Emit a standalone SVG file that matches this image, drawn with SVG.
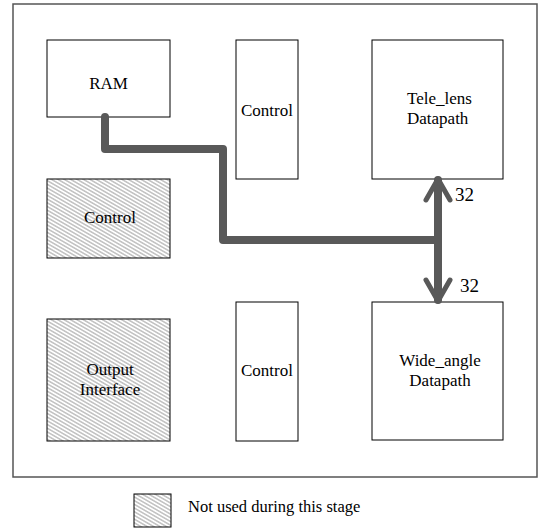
<svg xmlns="http://www.w3.org/2000/svg" width="539" height="529" viewBox="0 0 539 529">
<style>
.box{fill:#fff;stroke:#000;stroke-width:1}
.hbox{fill:url(#hatch);stroke:#000;stroke-width:1}
.lbl{font-family:"Liberation Serif","Times New Roman",serif;font-size:17px;fill:#000}
.c{text-anchor:middle}
.bus{fill:none;stroke:#595959;stroke-width:8;stroke-linecap:round;stroke-linejoin:round}
.head{fill:none;stroke:#595959;stroke-width:5;stroke-linecap:round;stroke-linejoin:round}
</style>
<defs>
<pattern id="hatch" patternUnits="userSpaceOnUse" width="3.2" height="3.2" patternTransform="rotate(30)">
<rect width="3.2" height="3.2" fill="#fff"/>
<line x1="0" y1="1.6" x2="3.2" y2="1.6" stroke="#8a8a8a" stroke-width="0.8"/>
</pattern>
</defs>
<rect id="frame" x="13" y="4" width="524" height="473" fill="#fff" stroke="#555" stroke-width="1.5"/>
<g id="ram"><rect class="box" x="47" y="40" width="123" height="77"/><text class="lbl c" x="108.5" y="89">RAM</text></g>
<g id="control-top"><rect class="box" x="236" y="40" width="62" height="139"/><text class="lbl c" x="267" y="116">Control</text></g>
<g id="tele"><rect class="box" x="372" y="40" width="131" height="139"/><text class="lbl" x="407" y="104">Tele_lens</text><text class="lbl" x="407" y="124">Datapath</text></g>
<g id="control-hatched"><rect class="hbox" x="47" y="179" width="123" height="79"/><text class="lbl c" x="110" y="223">Control</text></g>
<g id="output"><rect class="hbox" x="47" y="319" width="123" height="122"/><text class="lbl c" x="110" y="375">Output</text><text class="lbl c" x="110" y="395">Interface</text></g>
<g id="control-bottom"><rect class="box" x="236" y="302" width="62" height="139"/><text class="lbl c" x="267" y="376">Control</text></g>
<g id="wide"><rect class="box" x="372" y="302" width="131" height="138"/><text class="lbl c" x="440" y="366">Wide_angle</text><text class="lbl c" x="440" y="386">Datapath</text></g>
<g id="connectors">
<path class="bus" d="M105 117 V149 H223 V240 H438"/>
<path class="bus" d="M438 180 V300"/>
<path class="head" d="M426 200 L438 179 L450 200"/>
<path class="head" d="M426 280 L438 301 L450 280"/>
<text class="lbl" x="455" y="201" style="font-size:19px">32</text>
<text class="lbl" x="460" y="292" style="font-size:19px">32</text>
</g>
<g id="legend"><rect class="hbox" x="134" y="494" width="37" height="33"/><text class="lbl" x="188" y="512" style="font-size:16.5px">Not used during this stage</text></g>
</svg>
